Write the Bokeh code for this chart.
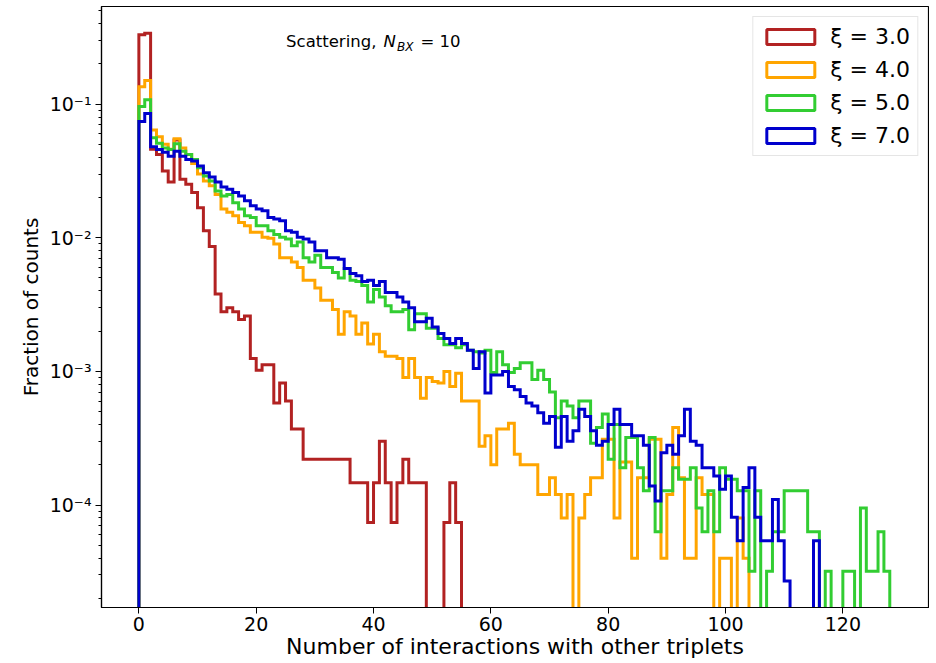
from bokeh.plotting import figure
from bokeh.models import (Range1d, FixedTicker, CustomJSTickFormatter, Legend,
                          LegendItem, Label)
from bokeh.embed import file_html
from bokeh.resources import INLINE

# ---------------- data (fraction of counts per unit-width bin, starting at 0) ----
series_labels = ["ξ = 3.0", "ξ = 4.0", "ξ = 5.0", "ξ = 7.0"]
series_colors = ["#b22222", "#ffa500", "#32cd32", "#0000cd"]

xi3 = [0.33, 0.34, 0.046, 0.042, 0.0316, 0.0261, 0.054, 0.0274, 0.0251, 0.0218,
       0.0168, 0.0113, 0.0086, 0.0038, 0.0028, 0.0030, 0.0028, 0.00245, 0.0026, 0.00125,
       0.00102, 0.00112, 0.00112, 0.00058, 0.00082, 0.0006, 0.00037, 0.00037, 0.00022, 0.00022,
       0.00022, 0.00022, 0.00022, 0.00022, 0.00022, 0.00022, 0.000147, 0.000147, 0.000147, 0.000074,
       0.000147, 0.0003, 0.000147, 0.000074, 0.000147, 0.00022, 0.000147, 0.000147, 0.000147, 0,
       0, 0, 0.000074, 0.000147, 0.000074]

xi4 = [0.135, 0.15, 0.064, 0.057, 0.050, 0.046, 0.055, 0.047, 0.042, 0.036,
       0.030, 0.0266, 0.0245, 0.0211, 0.0164, 0.0155, 0.0146, 0.0130, 0.0123, 0.0110,
       0.0110, 0.0101, 0.0099, 0.0090, 0.0071, 0.0071, 0.0066, 0.0060, 0.0048, 0.0048,
       0.0042, 0.0034, 0.0034, 0.0029, 0.0019, 0.0028, 0.0026, 0.0019, 0.0023, 0.0016,
       0.0019, 0.0014, 0.0013, 0.0013, 0.00125, 0.0009, 0.00125, 0.0009, 0.00063, 0.0009,
       0.00084, 0.00082, 0.001, 0.00077, 0.00097, 0.0006, 0.0006, 0.0006, 0.000275, 0.00033,
       0.0002, 0.00037, 0.00037, 0.00041, 0.00024, 0.0002, 0.0002, 0.0002, 0.00012, 0.00012,
       0.00016, 0.00012, 0.00008, 0.00012, 0, 0.00008, 0.00012, 0.00016, 0.00016, 0.00031,
       0.00031, 0.00008, 0.00021, 0.00021, 0.00004, 0.00016, 0.00016, 0.00031, 0.00031, 0.00004,
       0.00012, 0.00038, 0.00016, 0.00004, 0.00004, 0.00016, 0.00012, 0.00012, 0, 0.00004,
       0.00004, 0, 0.00008, 0.00004]

xi5 = [0.096, 0.108, 0.056, 0.051, 0.047, 0.0457, 0.0506, 0.0444, 0.042, 0.0386,
       0.0334, 0.029, 0.0266, 0.0224, 0.0205, 0.0211, 0.0183, 0.0164, 0.0146, 0.0142,
       0.0123, 0.0123, 0.0113, 0.0106, 0.0101, 0.0098, 0.0087, 0.0093, 0.0071, 0.0066,
       0.0074, 0.0060, 0.0060, 0.0055, 0.0050, 0.0059, 0.0048, 0.0047, 0.0044, 0.0033,
       0.0041, 0.0036, 0.0031, 0.0028, 0.0028, 0.0029, 0.00205, 0.0027, 0.0027, 0.0021,
       0.0021, 0.00176, 0.00158, 0.00158, 0.0015, 0.00158, 0.00144, 0.0014, 0.00137, 0.00144,
       0.00098, 0.0014, 0.00112, 0.00098, 0.00105, 0.00116, 0.00116, 0.00087, 0.00102, 0.00087,
       0.0007, 0.00045, 0.0006, 0.00055, 0.00045, 0.0006, 0.0006, 0.00029, 0.00038, 0.00048,
       0.00022, 0.0004, 0.00019, 0.00032, 0.00032, 0.00019, 0.000128, 0.00032, 0.000063, 0.000128,
       0.000128, 0.00019, 0.000156, 0.000156, 0.00019, 0.000095, 0.000063, 0.000128, 0.000063, 0.00019,
       0.000156, 0.000156, 0.000128, 0.000128, 0.000032, 0.000128, 0, 0.000032, 0.000063, 0.000063,
       0.000128, 0.000128, 0.000128, 0.000128, 0.000063, 0.000063, 0, 0.000032, 0, 0,
       0.000032, 0.000032, 0, 0.000095, 0.000032, 0.000032, 0.000063, 0.000032]

xi7 = [0.074, 0.085, 0.048, 0.0457, 0.0437, 0.0408, 0.0444, 0.0408, 0.0386, 0.0375,
       0.0344, 0.0306, 0.0285, 0.0262, 0.0240, 0.0231, 0.0218, 0.0205, 0.0189, 0.0174,
       0.0164, 0.0159, 0.0142, 0.0138, 0.0134, 0.0113, 0.0110, 0.0101, 0.0098, 0.0093,
       0.0080, 0.0080, 0.0071, 0.0071, 0.0069, 0.0059, 0.0054, 0.0052, 0.0047, 0.0048,
       0.0044, 0.0047, 0.0039, 0.0039, 0.0036, 0.0033, 0.0030, 0.00235, 0.00235, 0.0025,
       0.00215, 0.00192, 0.00176, 0.00162, 0.00176, 0.00162, 0.00144, 0.00105, 0.0014, 0.00069,
       0.00094, 0.00094, 0.001, 0.00077, 0.00073, 0.00065, 0.00058, 0.00055, 0.00049, 0.00041,
       0.00046, 0.00027, 0.00046, 0.0003, 0.00036, 0.00052, 0.00046, 0.00036, 0.00028, 0.0003,
       0.0004, 0.00052, 0.0004, 0.0004, 0.00033, 0.00033, 0.00028, 0.000139, 0.000107, 0.000246,
       0.00028, 0.00024, 0.00033, 0.00052, 0.0003, 0.00028, 0.00019, 0.00019, 0.000165, 0.000131,
       0.000165, 0.000081, 0.000054, 0.000135, 0.00019, 0.000081, 0.000054, 0.000054, 0.00011, 0.000054,
       0.000027, 0, 0, 0, 0, 0.000054]

bin_width = 1
x_ticks = [0, 20, 40, 60, 80, 100, 120]
y_decades = [-5, -4, -3, -2, -1]

FONT = "DejaVu Sans"
NAN = float("nan")


def step_path(vals, floor=1e-9):
    """Outline of a step histogram, from the baseline up and back down."""
    xs, ys = [0.0], [floor]
    for i, v in enumerate(vals):
        vv = v if v > 0 else floor
        xs += [i * bin_width, (i + 1) * bin_width]
        ys += [vv, vv]
    xs.append(len(vals) * bin_width)
    ys.append(floor)
    return xs, ys


p = figure(width=929, height=661,
           x_range=Range1d(-6.37, 134.6), y_range=Range1d(1.71e-5, 0.538),
           y_axis_type="log", output_backend="svg", toolbar_location=None,
           min_border_left=101, min_border_right=1, min_border_top=6)

items = []
for lab, vals, col in zip(series_labels, [xi3, xi4, xi5, xi7], series_colors):
    xs, ys = step_path(vals)
    p.line(xs, ys, line_color=col, line_width=3, line_join="miter")
    # legend swatch: an outlined box (not drawn in the plot, NaN position)
    proxy = p.rect(x=[NAN], y=[NAN], width=1, height=1, fill_color="white",
                   line_color=col, line_width=3)
    items.append(LegendItem(label=lab, renderers=[proxy]))

legend = Legend(items=items, location="top_right",
                label_text_font=FONT, label_text_font_size="22px",
                label_text_color="black",
                glyph_width=60, glyph_height=19, label_standoff=10,
                label_height=25, spacing=8, padding=7,
                border_line_color="#cccccc", border_line_width=1,
                background_fill_color="white", background_fill_alpha=0.8)
p.add_layout(legend)

# axes
p.grid.visible = False
p.outline_line_color = "black"
p.outline_line_width = 1.2

p.xaxis.ticker = FixedTicker(ticks=x_ticks)
p.yaxis.ticker = FixedTicker(
    ticks=[10.0 ** e for e in y_decades],
    minor_ticks=[m * 10.0 ** e for e in y_decades for m in range(2, 10)])
p.yaxis.formatter = CustomJSTickFormatter(code="""
    const e = Math.round(Math.log10(tick));
    const m = {'-':'\u207b','0':'\u2070','1':'\u00b9','2':'\u00b2','3':'\u00b3',
               '4':'\u2074','5':'\u2075','6':'\u2076','7':'\u2077','8':'\u2078','9':'\u2079'};
    let s = '';
    for (const c of String(e)) { s += m[c]; }
    return '10' + s;
""")

for ax in (p.xaxis[0], p.yaxis[0]):
    ax.axis_line_color = "black"
    ax.axis_line_width = 1.2
    ax.major_tick_line_color = "black"
    ax.major_tick_in = 0
    ax.major_tick_out = 6
    ax.minor_tick_in = 0
    ax.minor_tick_out = 3
    ax.major_label_text_font = FONT
    ax.major_label_text_font_size = "19px"
    ax.major_label_text_color = "black"
    ax.axis_label_text_font = FONT
    ax.axis_label_text_font_style = "normal"
    ax.axis_label_text_color = "black"

p.xaxis.minor_tick_line_color = None
p.xaxis.axis_label = "Number of interactions with other triplets"
p.xaxis.axis_label_text_font_size = "22px"
p.xaxis.major_label_standoff = 3
p.xaxis.axis_label_standoff = 0
p.yaxis.axis_label = "Fraction of counts"
p.yaxis.axis_label_text_font_size = "20px"
p.yaxis.major_label_standoff = 4
p.yaxis.axis_label_standoff = 4

# annotation "Scattering, N_BX = 10"
base_y = 0.292
sub_y = 0.268
for txt, xx, yy, size, style in [("Scattering,", 25.1, base_y, "16.5px", "normal"),
                                 ("N", 41.7, base_y, "16.5px", "italic"),
                                 ("BX", 44.0, sub_y, "12px", "italic"),
                                 ("= 10", 48.0, base_y, "16.5px", "normal")]:
    p.add_layout(Label(x=xx, y=yy, text=txt, text_font=FONT,
                       text_font_size=size, text_font_style=style,
                       text_color="black", text_baseline="alphabetic"))

open("out.html", "w").write(file_html(p, INLINE))
